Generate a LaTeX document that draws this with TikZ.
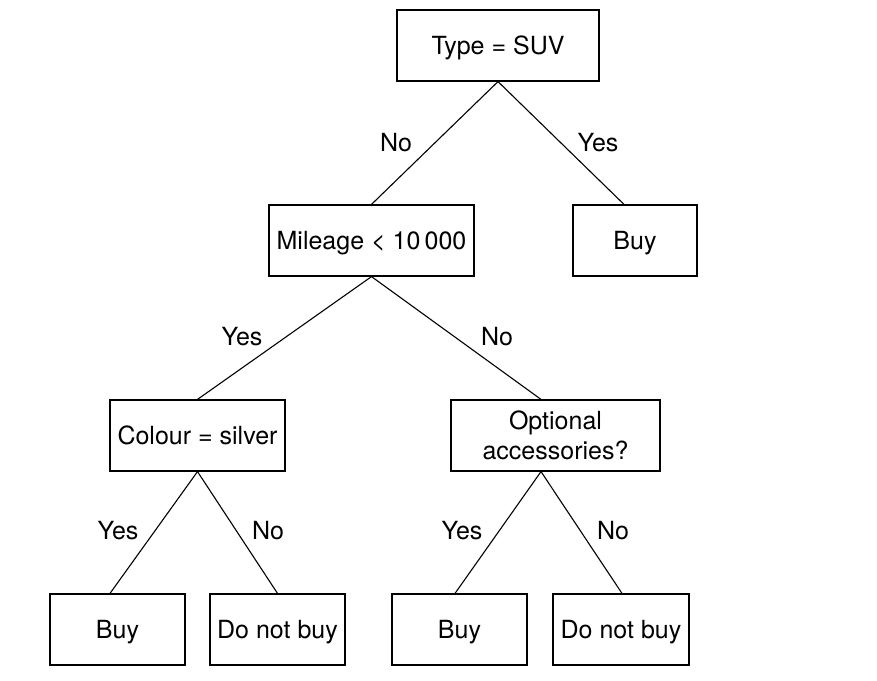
\documentclass[tikz,border=0pt]{standalone}
\usepackage{fontspec}
\setmainfont{TeX Gyre Heros}
\usepackage{tikz}
\usetikzlibrary{positioning}

\tikzset{
  box/.style={draw, line width=0.6pt, minimum height=35.5pt, inner sep=2pt, align=center},
  onebox/.style={box, text height=9pt, text depth=0pt},
  branch/.style={line width=0.55pt},
  answer/.style={inner sep=0pt}
}

\begin{document}
\begin{tikzpicture}[x=0.5pt, y=0.5pt, font=\fontsize{12.5}{15}\selectfont]
        \useasboundingbox (0,0) rectangle (877,680);
        % decision nodes
        \node[onebox, minimum width=101pt] (type) at (498,634.5) {Type = SUV};
        \node[onebox, minimum width=102.5pt] (mileage) at (371.5,439.5) {Mileage < 10\,000};
        \node[onebox, minimum width=62pt] (buyA) at (635,439.5) {Buy};
        \node[onebox, minimum width=87.5pt] (colour) at (197.5,244.5) {Colour = silver};
        \node[box, minimum width=104.5pt] (extras) at (555.5,244.5) {Optional\\accessories?};
        % leaves
        \node[onebox, minimum width=67.5pt] (buyB) at (117.5,50.5) {Buy};
        \node[onebox, minimum width=67.5pt] (notB) at (277.5,50.5) {Do not buy};
        \node[onebox, minimum width=67.5pt] (buyC) at (459.5,50.5) {Buy};
        \node[onebox, minimum width=68pt] (notC) at (621,50.5) {Do not buy};
        % branches
        \draw[branch] (type.south) -- (mileage.north);
        \draw[branch] (type.south) -- ([xshift=-5.5pt]buyA.north);
        \draw[branch] (mileage.south) -- (colour.north);
        \draw[branch] (mileage.south) -- ([xshift=-7.25pt]extras.north);
        \draw[branch] (colour.south) -- ([xshift=-3.75pt]buyB.north);
        \draw[branch] (colour.south) -- (notB.north);
        \draw[branch] ([xshift=-7.25pt]extras.south) -- ([xshift=-2.25pt]buyC.north);
        \draw[branch] ([xshift=-7.25pt]extras.south) -- ([xshift=0.5pt]notC.north);
        % answers
        \node[answer] (noA) at (396,537) {No};
        \node[answer] (yesA) at (598,537) {Yes};
        \node[answer] (yesB) at (242,343) {Yes};
        \node[answer] (noB) at (497,343) {No};
        \node[answer] (yesC) at (118,149) {Yes};
        \node[answer] (noC) at (268,149) {No};
        \node[answer] (yesD) at (462,149) {Yes};
        \node[answer] (noD) at (613,149) {No};
    \end{tikzpicture}
\end{document}
